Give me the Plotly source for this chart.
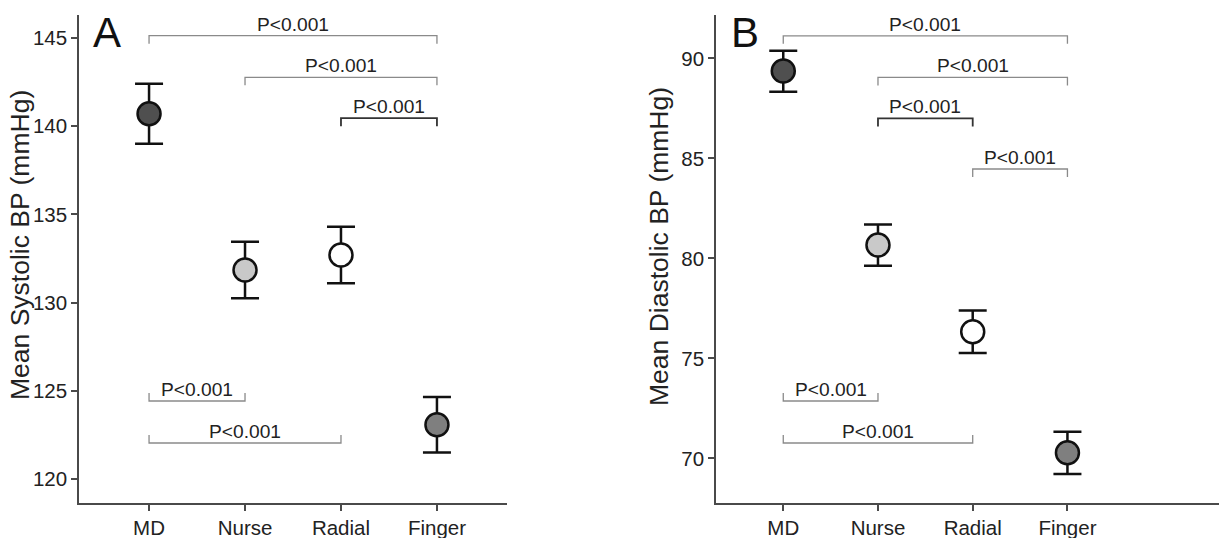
import plotly.graph_objects as go

# ---------------- data ----------------
categories = ["MD", "Nurse", "Radial", "Finger"]

sys_mean = [140.7, 131.85, 132.7, 123.07]
sys_upper = [142.4, 133.45, 134.3, 124.65]
sys_lower = [139.0, 130.25, 131.1, 121.5]

dia_mean = [89.37, 80.67, 76.33, 70.28]
dia_upper = [90.38, 81.7, 77.4, 71.33]
dia_lower = [88.33, 79.63, 75.27, 69.22]

sys_ticks = [120, 125, 130, 135, 140, 145]
dia_ticks = [70, 75, 80, 85, 90]

# brackets: start category index, end category index, level, direction of end ticks
sys_br_from = [0, 1, 2, 0, 0]
sys_br_to = [3, 3, 3, 1, 2]
sys_br_level = [145.13, 142.77, 140.45, 124.42, 122.04]
sys_br_dir = [-1, -1, -1, 1, 1]

dia_br_from = [0, 1, 1, 2, 0, 0]
dia_br_to = [3, 3, 2, 3, 1, 2]
dia_br_level = [91.13, 89.05, 87.0, 84.47, 72.87, 70.77]
dia_br_dir = [-1, -1, -1, -1, 1, 1]

p_label = "P<0.001"

# ---------------- styles ----------------
W, H = 1219, 538
marker_colors = ["#4f4f4f", "#c9c9c9", "#ffffff", "#7f7f7f"]
FONT = "Liberation Sans, Arial, sans-serif"
TXT = "#222222"

xA_dom = [79 / W, 507 / W]
xB_dom = [716 / W, 1.0]
y_dom = [1 - 503 / H, 1 - 15 / H]
yA_range = [118.64, 146.3]
yB_range = [67.77, 92.17]
xA_range = [-0.73, 3.73]
xB_range = [-0.71, 4.6]

fig = go.Figure()
xpos = list(range(len(categories)))


def add_panel(means, upper, lower, xa, ya):
    fig.add_trace(go.Scatter(
        x=xpos, y=means, mode="markers",
        xaxis=xa, yaxis=ya,
        marker=dict(size=23, color=marker_colors,
                    line=dict(color="#111111", width=2.5)),
        error_y=dict(type="data", symmetric=False,
                     array=[u - m for u, m in zip(upper, means)],
                     arrayminus=[m - l for m, l in zip(means, lower)],
                     color="#111111", thickness=2.5, width=14),
        showlegend=False, hoverinfo="skip",
    ))


add_panel(sys_mean, sys_upper, sys_lower, "x", "y")
add_panel(dia_mean, dia_upper, dia_lower, "x2", "y2")


def add_brackets(froms, tos, levels, dirs, xref, yref, yrange, dark_idx):
    px_h = (y_dom[1] - y_dom[0]) * H
    tick = 8 * (yrange[1] - yrange[0]) / px_h
    for k, (a, b, lv, d) in enumerate(zip(froms, tos, levels, dirs)):
        col = "#333333" if k == dark_idx else "#8a8a8a"
        lw = 1.8 if k == dark_idx else 1.3
        fig.add_shape(type="path",
                      path=f"M {a},{lv + d * tick} L {a},{lv} L {b},{lv} L {b},{lv + d * tick}",
                      xref=xref, yref=yref,
                      line=dict(color=col, width=lw))
        fig.add_annotation(x=(a + b) / 2, y=lv, xref=xref, yref=yref,
                           text=p_label, showarrow=False, yanchor="bottom",
                           xanchor="center", yshift=-1,
                           font=dict(family=FONT, size=19.2, color=TXT))


add_brackets(sys_br_from, sys_br_to, sys_br_level, sys_br_dir, "x", "y", yA_range, 2)
add_brackets(dia_br_from, dia_br_to, dia_br_level, dia_br_dir, "x2", "y2", yB_range, 2)

axis_common = dict(showline=True, linecolor="#4a4a4a", linewidth=1.5,
                   ticks="outside", ticklen=6, tickwidth=1.5, tickcolor="#4a4a4a",
                   showgrid=False, zeroline=False,
                   tickfont=dict(family=FONT, size=20.5, color=TXT))

fig.update_layout(
    width=W, height=H,
    margin=dict(l=0, r=0, t=0, b=0),
    paper_bgcolor="white", plot_bgcolor="white",
    xaxis=dict(domain=xA_dom, range=xA_range,
               tickvals=xpos, ticktext=categories,
               anchor="y", **axis_common),
    yaxis=dict(domain=y_dom, range=yA_range, tickvals=sys_ticks,
               anchor="x", **axis_common),
    xaxis2=dict(domain=xB_dom, range=xB_range,
                tickvals=xpos, ticktext=categories,
                anchor="y2", **axis_common),
    yaxis2=dict(domain=y_dom, range=yB_range, tickvals=dia_ticks,
                anchor="x2", **axis_common),
)

# axis titles and panel letters
fig.add_annotation(x=20 / W, y=1 - 245 / H, xref="paper", yref="paper",
                   text="Mean Systolic BP (mmHg)", textangle=-90, showarrow=False,
                   xanchor="center", yanchor="middle",
                   font=dict(family=FONT, size=26.5, color=TXT))
fig.add_annotation(x=659 / W, y=1 - 247 / H, xref="paper", yref="paper",
                   text="Mean Diastolic BP (mmHg)", textangle=-90, showarrow=False,
                   xanchor="center", yanchor="middle",
                   font=dict(family=FONT, size=26.5, color=TXT))
fig.add_annotation(x=91 / W, y=1 - 7 / H, xref="paper", yref="paper",
                   text="A", showarrow=False, xanchor="left", yanchor="top",
                   font=dict(family=FONT, size=42, color="#111111"))
fig.add_annotation(x=729 / W, y=1 - 7 / H, xref="paper", yref="paper",
                   text="B", showarrow=False, xanchor="left", yanchor="top",
                   font=dict(family=FONT, size=42, color="#111111"))

fig.write_html("out.html",
               config={"displayModeBar": False},
               post_script="document.body.style.margin='0';document.body.style.overflow='hidden';")
